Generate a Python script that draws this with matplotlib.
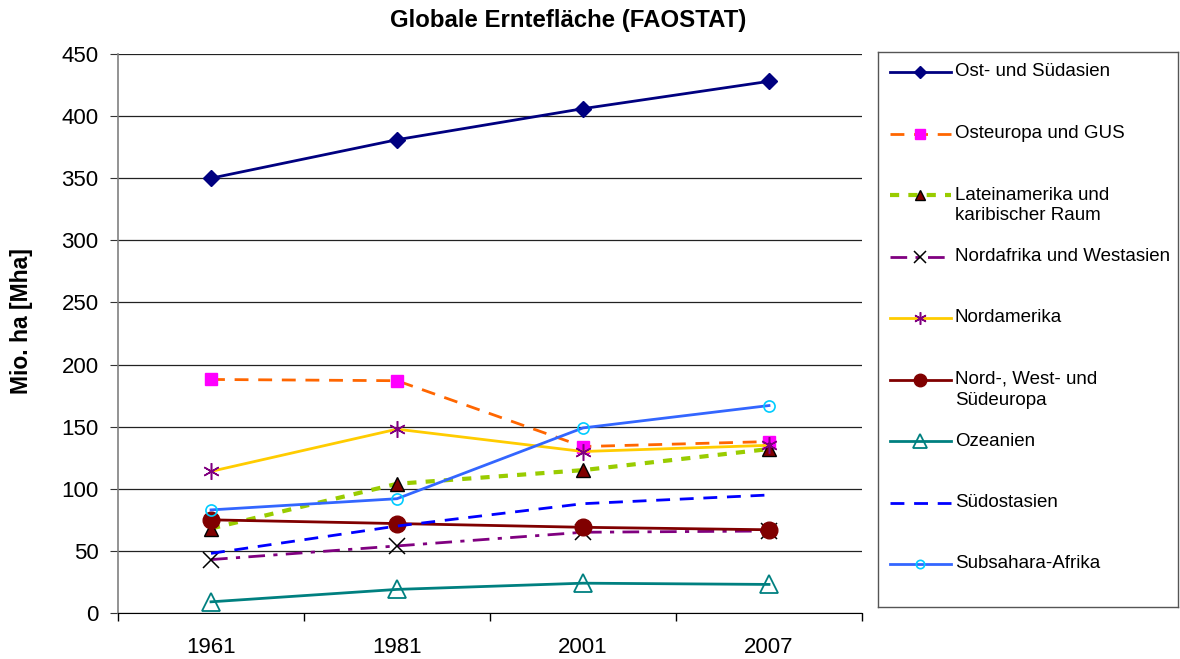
import numpy as np
import matplotlib
matplotlib.use("Agg")
import matplotlib.pyplot as plt
from matplotlib.lines import Line2D

plt.rcParams['font.family'] = ['Liberation Sans', 'DejaVu Sans']

years = ['1961', '1981', '2001', '2007']
regions = ['Ost- und Südasien', 'Osteuropa und GUS', 'Lateinamerika und\nkaribischer Raum',
           'Nordafrika und Westasien', 'Nordamerika', 'Nord-, West- und\nSüdeuropa',
           'Ozeanien', 'Südostasien', 'Subsahara-Afrika']

ost_suedasien = [350, 381, 406, 428]
osteuropa_gus = [188, 187, 134, 138]
lateinamerika = [68, 104, 115, 132]
nordafrika_westasien = [43, 54, 65, 66]
nordamerika = [114, 148, 130, 135]
nord_west_suedeuropa = [75, 72, 69, 67]
ozeanien = [9, 19, 24, 23]
suedostasien = [48, 70, 88, 95]
subsahara = [83, 92, 149, 167]

values = [ost_suedasien, osteuropa_gus, lateinamerika, nordafrika_westasien, nordamerika,
          nord_west_suedeuropa, ozeanien, suedostasien, subsahara]

# line/marker styles per series
styles = [
    dict(color='#000080', ls='-', marker='D', mfc='#000080', mec='#000080', ms=8),
    dict(color='#FF6600', ls=(0, (5, 3.5)), marker='s', mfc='#FF00FF', mec='#FF00FF', ms=9),
    dict(color='#99CC00', ls=(0, (2.2, 2.2)), marker='^', mfc='#800000', mec='black', ms=10, lw=3),
    dict(color='#800080', ls=(0, (6, 3, 1.5, 3)), marker='x', mfc='black', mec='black', ms=11, mew=1.1),
    dict(color='#FFCC00', ls='-', marker=(6, 2, 0), mfc='#800080', mec='#800080', ms=12, mew=1.1),
    dict(color='#800000', ls='-', marker='o', mfc='#800000', mec='#800000', ms=12),
    dict(color='#008080', ls='-', marker='^', mfc='none', mec='#008080', ms=13, mew=1.3),
    dict(color='#0000FF', ls=(0, (5, 3.5)), marker='', mfc='none', mec='none', ms=0),
    dict(color='#3366FF', ls='-', marker='o', mfc='none', mec='#00CCFF', ms=8, mew=1.2),
]

fig = plt.figure(figsize=(11.8, 6.59), dpi=100)
ax = fig.add_axes([118 / 1180, 1 - 613 / 659, (862 - 118) / 1180, (613 - 54) / 659])

x = np.arange(len(years))
for vals, st in zip(values, styles):
    st = dict(st)
    lw = st.pop('lw', 2.0)
    mew = st.pop('mew', 1.0)
    ax.plot(x, vals, linewidth=lw, markeredgewidth=mew, **st, zorder=3)

ax.set_xlim(-0.5, 3.5)
ax.set_ylim(0, 450)
ax.set_yticks(np.arange(0, 451, 50))
ax.set_xticks(x)
ax.set_xticklabels(years)
ax.set_xticks(np.arange(-0.5, 3.6, 1), minor=True)
ax.tick_params(axis='x', which='major', length=0, labelsize=16, pad=17)
ax.tick_params(axis='x', which='minor', length=6, direction='out', width=1)
ax.tick_params(axis='y', length=6, direction='out', labelsize=16, pad=8, color='#333333')
ax.yaxis.grid(True, color='#222222', linewidth=0.9)
ax.set_axisbelow(True)
for s in ['top', 'right']:
    ax.spines[s].set_visible(False)
ax.spines['left'].set_color('#808080')
ax.spines['left'].set_linewidth(1.2)
ax.spines['bottom'].set_color('black')
ax.set_ylabel('Mio. ha [Mha]', fontsize=16.5, fontweight='bold')
ax.yaxis.set_label_coords(-0.114, 0.522)

fig.text(568 / 1180, 1 - 20 / 659, 'Globale Erntefläche (FAOSTAT)', ha='center', va='center',
         fontsize=17.3, fontweight='bold')

# legend drawn in its own box
lg = fig.add_axes([878 / 1180, 1 - 607 / 659, 300 / 1180, 555 / 659])
lg.set_xlim(0, 300)
lg.set_ylim(555, 0)
lg.set_xticks([])
lg.set_yticks([])
for s in lg.spines.values():
    s.set_color('#555555')
    s.set_linewidth(1)
for i, (lab, st) in enumerate(zip(regions, styles)):
    st = dict(st)
    lw = st.pop('lw', 2.0)
    mew = st.pop('mew', 1.0)
    st['ms'] = st['ms'] * 0.75
    y = 20 + i * 61.5
    lg.add_line(Line2D([12, 42, 73], [y, y, y], linewidth=lw, markeredgewidth=mew,
                       markevery=[1], **st))
    for j, part in enumerate(lab.split('\n')):
        lg.text(77, y + j * 21, part, va='center', ha='left', fontsize=13.5)

fig.savefig('out.png', dpi=100)
